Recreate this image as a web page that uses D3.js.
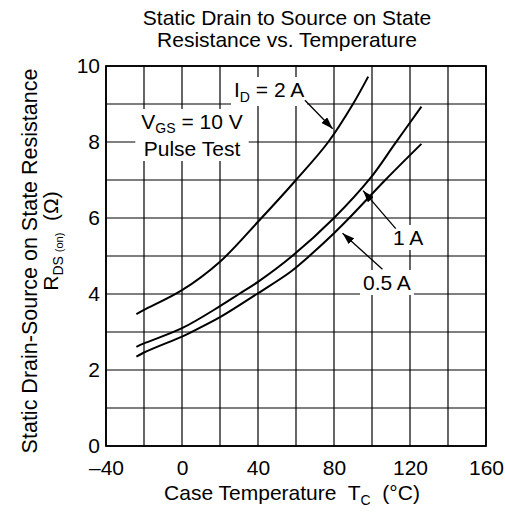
<!DOCTYPE html>
<html>
<head>
<meta charset="utf-8">
<script src="https://cdn.jsdelivr.net/npm/d3@7/dist/d3.min.js"></script>
<style>
body { margin: 0; background: #fff; }
svg text { font-family: "Liberation Sans", Arial, Helvetica, sans-serif; fill: #000; }
</style>
</head>
<body>
<svg id="chart" width="505" height="517"></svg>
<script>
// values
var xTicks = [-40, 0, 40, 80, 120, 160]
var yTicks = [0, 2, 4, 6, 8, 10]
var xGrid = [-40, -20, 0, 20, 40, 60, 80, 100, 120, 140, 160]
var yGrid = [0, 1, 2, 3, 4, 5, 6, 7, 8, 9, 10]

var temp_2A = [-24, -20, 0, 20, 40, 60, 77, 90, 98]
var rds_2A = [3.47, 3.58, 4.1, 4.85, 5.9, 7.0, 8.0, 9.0, 9.72]

var temp_1A = [-24, -20, 0, 20, 30, 40, 58, 80, 99, 112, 126]
var rds_1A = [2.61, 2.7, 3.1, 3.68, 4.0, 4.32, 5.0, 6.0, 7.04, 7.95, 8.93]

var temp_05A = [-24, -20, 0, 5, 20, 40, 57, 67, 80, 88, 107, 126]
var rds_05A = [2.35, 2.46, 2.88, 3.0, 3.39, 4.02, 4.58, 5.0, 5.6, 6.0, 7.0, 7.95]

var series = [
  {name: "2A", t: temp_2A, r: rds_2A},
  {name: "1A", t: temp_1A, r: rds_1A},
  {name: "0.5A", t: temp_05A, r: rds_05A}
]

// arrows for the curve labels, in data units [temp, rds]
var arrows = [
  {from: [64.7, 9.1], to: [79.3, 8.35]},
  {from: [112.5, 5.72], to: [95.3, 6.72]},
  {from: [105.5, 4.65], to: [84.5, 5.6]}
]

var margins = {"left": 106, "right": 19, "top": 66, "bottom": 71}
var W = 505, H = 517
var width = W - margins.left - margins.right
var height = H - margins.top - margins.bottom

var svg = d3.select("#chart")

svg.append("defs").append("marker")
  .attr("id", "head")
  .attr("viewBox", "0 0 12 8")
  .attr("refX", 12)
  .attr("refY", 4)
  .attr("markerWidth", 12)
  .attr("markerHeight", 8)
  .attr("markerUnits", "userSpaceOnUse")
  .attr("orient", "auto")
  .append("path")
  .attr("d", "M0,0 L12,4 L0,8 Z")
  .attr("fill", "#000")

var x = d3.scaleLinear().domain([-40, 160]).range([margins.left, margins.left + width])
var y = d3.scaleLinear().domain([0, 10]).range([margins.top + height, margins.top])

// grid
svg.append("g").selectAll("line")
  .data(xGrid)
  .enter()
  .append("line")
  .attr("x1", function(d){ return x(d) })
  .attr("x2", function(d){ return x(d) })
  .attr("y1", y(0))
  .attr("y2", y(10))
  .attr("stroke", "#000")
  .attr("stroke-width", 1.2)

svg.append("g").selectAll("line")
  .data(yGrid)
  .enter()
  .append("line")
  .attr("x1", x(-40))
  .attr("x2", x(160))
  .attr("y1", function(d){ return y(d) })
  .attr("y2", function(d){ return y(d) })
  .attr("stroke", "#000")
  .attr("stroke-width", 1.2)

svg.append("rect")
  .attr("x", x(-40))
  .attr("y", y(10))
  .attr("width", x(160) - x(-40))
  .attr("height", y(0) - y(10))
  .attr("fill", "none")
  .attr("stroke", "#000")
  .attr("stroke-width", 1.8)

// axes (labels only, the grid does the lines)
function fmt(d){
  return d < 0 ? "\u2013" + Math.abs(d) : String(d)
}

svg.append("g")
  .attr("transform", "translate(0," + y(0) + ")")
  .call(d3.axisBottom(x).tickValues(xTicks).tickSize(0).tickPadding(14).tickFormat(fmt))
svg.append("g")
  .attr("transform", "translate(" + x(-40) + ",0)")
  .call(d3.axisLeft(y).tickValues(yTicks).tickSize(0).tickPadding(6).tickFormat(fmt))

svg.selectAll(".domain").remove()
svg.selectAll(".tick text")
  .attr("font-size", "21px")
  .attr("font-family", null)
  .attr("fill", "#000")

// curves
var line = d3.line()
  .x(function(d){ return x(d[0]) })
  .y(function(d){ return y(d[1]) })
  .curve(d3.curveCatmullRom.alpha(0.5))

svg.append("g").selectAll("path")
  .data(series)
  .enter()
  .append("path")
  .attr("d", function(s){
    return line(s.t.map(function(t, i){ return [t, s.r[i]] }))
  })
  .attr("fill", "none")
  .attr("stroke", "#000")
  .attr("stroke-width", 2)

// label with white box behind it
function boxedText(g, pad){
  var bb = g.node().getBBox()
  g.insert("rect", ":first-child")
    .attr("x", bb.x - pad)
    .attr("y", bb.y - 1)
    .attr("width", bb.width + 2 * pad)
    .attr("height", bb.height + 2)
    .attr("fill", "#fff")
}

var ann = svg.append("g").attr("font-size", "21px")

var g2 = ann.append("g")
var t2 = g2.append("text").attr("x", 234).attr("y", 97)
t2.append("tspan").text("I")
t2.append("tspan").attr("font-size", "14px").attr("dy", 5).text("D")
t2.append("tspan").attr("dy", -5).text(" = 2 A")
boxedText(g2, 3)

var gv = ann.append("g")
var tv = gv.append("text").attr("x", 192).attr("y", 129).attr("text-anchor", "middle")
tv.append("tspan").text("V")
tv.append("tspan").attr("font-size", "14px").attr("dy", 4).text("GS")
tv.append("tspan").attr("dy", -4).text(" = 10 V")
gv.append("text").attr("x", 192).attr("y", 156).attr("text-anchor", "middle").text("Pulse Test")
boxedText(gv, 6)

var g1 = ann.append("g")
g1.append("text").attr("x", 393).attr("y", 245).text("1 A")
boxedText(g1, 3)

var g05 = ann.append("g")
g05.append("text").attr("x", 363).attr("y", 290).text("0.5 A")
boxedText(g05, 3)

svg.append("g").selectAll("line")
  .data(arrows)
  .enter()
  .append("line")
  .attr("x1", function(d){ return x(d.from[0]) })
  .attr("y1", function(d){ return y(d.from[1]) })
  .attr("x2", function(d){ return x(d.to[0]) })
  .attr("y2", function(d){ return y(d.to[1]) })
  .attr("stroke", "#000")
  .attr("stroke-width", 1.3)
  .attr("marker-end", "url(#head)")

// titles
svg.append("text")
  .attr("x", 287).attr("y", 25)
  .attr("text-anchor", "middle")
  .attr("font-size", "21px")
  .text("Static Drain to Source on State")
svg.append("text")
  .attr("x", 287).attr("y", 47)
  .attr("text-anchor", "middle")
  .attr("font-size", "21px")
  .text("Resistance vs. Temperature")

var xl = svg.append("text")
  .attr("x", 292).attr("y", 500)
  .attr("text-anchor", "middle")
  .attr("font-size", "21px")
  .attr("xml:space", "preserve")
xl.append("tspan").text("Case Temperature  T")
xl.append("tspan").attr("font-size", "14px").attr("dy", 5).text("C")
xl.append("tspan").attr("dy", -5).text("  (\u00B0C)")

svg.append("text")
  .attr("transform", "translate(37,261) rotate(-90)")
  .attr("text-anchor", "middle")
  .attr("font-size", "21.5px")
  .text("Static Drain-Source on State Resistance")

var yl = svg.append("text")
  .attr("transform", "translate(58,241) rotate(-90)")
  .attr("text-anchor", "middle")
  .attr("font-size", "21px")
  .attr("xml:space", "preserve")
yl.append("tspan").text("R")
yl.append("tspan").attr("font-size", "14px").attr("dy", 5).text("DS ")
yl.append("tspan").attr("font-size", "11px").text("(on)")
yl.append("tspan").attr("dy", -5).text("  (\u03A9)")
</script>
</body>
</html>
